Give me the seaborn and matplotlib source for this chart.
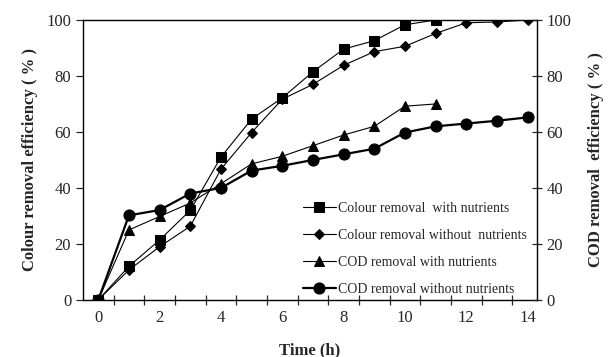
import matplotlib
matplotlib.use("Agg")
import matplotlib.pyplot as plt
from matplotlib.ticker import MultipleLocator, FixedLocator
import seaborn as sns
import pandas as pd

sns.set_style("ticks")
plt.rcParams["font.family"] = ["Liberation Serif", "DejaVu Serif"]
plt.rcParams["mathtext.fontset"] = "stix"

time_h = list(range(15))
colour_with = [0, 12, 21.4, 32, 51, 64.6, 72.2, 81.5, 89.6, 92.6, 98.3, 100]
colour_without = [0, 10.7, 19, 26.3, 46.7, 59.8, 71.7, 77, 83.8, 88.7, 90.6, 95.2, 99, 99.3, 100]
cod_with = [0, 25, 29.8, 34.6, 41.5, 48.6, 51.3, 55.1, 58.9, 62, 69.2, 70]
cod_without = [0, 30.2, 32.1, 38, 40, 46.2, 47.9, 50, 52, 54, 59.8, 62, 63, 64, 65.2]

labels = [
    "Colour removal  with nutrients",
    "Colour removal without  nutrients",
    "COD removal with nutrients",
    "COD removal without nutrients",
]
series = [colour_with, colour_without, cod_with, cod_without]
markers = ["s", "D", "^", "o"]
msizes = [7.5, 5.5, 7.5, 8]
lwidths = [0.8, 0.8, 0.8, 1.6]

fig = plt.figure(figsize=(6.1, 3.57), dpi=100)
ax = fig.add_axes([0.136, 0.160, 0.744, 0.784])

for vals, lab, mk, ms, lw in zip(series, labels, markers, msizes, lwidths):
    df = pd.DataFrame({"t": time_h[:len(vals)], "v": vals})
    sns.lineplot(data=df, x="t", y="v", ax=ax, color="black", linewidth=lw,
                 marker=mk, markersize=ms, markeredgecolor="black",
                 markerfacecolor="black", label=lab)

ax.set_xlim(-0.5, 14.3)
ax.set_ylim(0, 100)
ax.xaxis.set_major_locator(FixedLocator(range(0, 15, 2)))
ax.xaxis.set_minor_locator(FixedLocator([i + 0.5 for i in range(14)]))
ax.tick_params(axis="x", which="major", length=0, pad=7, labelsize=12)
ax.tick_params(axis="x", which="minor", length=7, direction="inout", width=0.9)
ax.yaxis.set_major_locator(MultipleLocator(20))
ax.tick_params(axis="y", which="major", length=5, direction="out", width=0.9, labelsize=12)

for side in ["left", "bottom", "top", "right"]:
    ax.spines[side].set_linewidth(1.0)
    ax.spines[side].set_color("black")
ax.spines["right"].set_visible(False)

ax2 = ax.twinx()
ax2.set_ylim(0, 100)
ax2.yaxis.set_major_locator(MultipleLocator(20))
ax2.tick_params(axis="y", which="major", length=7, direction="inout", width=0.9, labelsize=12)
for side in ["left", "bottom", "top"]:
    ax2.spines[side].set_visible(False)
ax2.spines["right"].set_linewidth(1.0)
ax2.spines["right"].set_color("black")

ax.set_xlabel("Time (h)", fontsize=12, fontweight="bold", labelpad=12)
ax.set_ylabel("Colour removal efficiency ( % )", fontsize=12, fontweight="bold", labelpad=6)
ax2.set_ylabel("COD removal  efficiency ( % )", fontsize=12, fontweight="bold", labelpad=12)

ax.legend(loc="lower right", bbox_to_anchor=(1.0, -0.02), frameon=False, fontsize=10,
          handlelength=2.4, handletextpad=0.15, labelspacing=1.0, borderaxespad=0.3)

fig.savefig("out.png", dpi=100)
